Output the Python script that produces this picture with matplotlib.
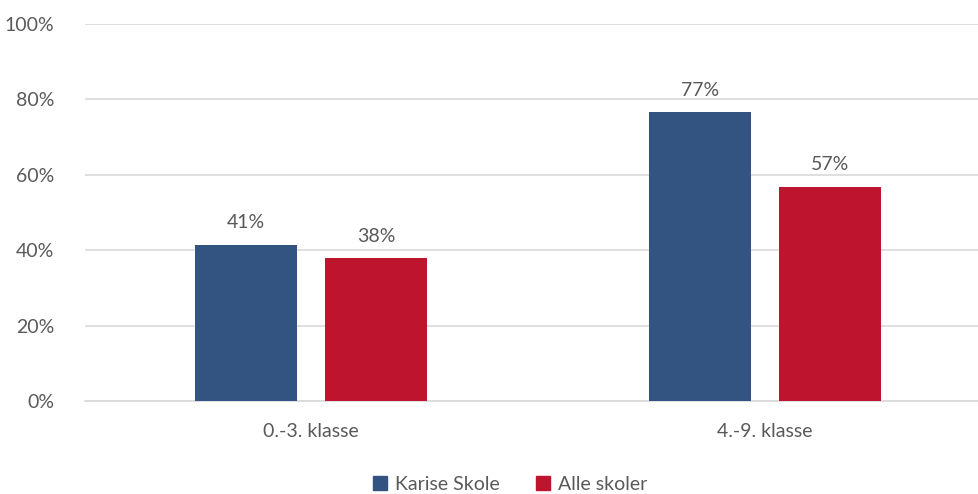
import numpy as np
import matplotlib.pyplot as plt
from matplotlib.patches import Patch

# ── Data ──────────────────────────────────────────────
categories = ["0.-3. klasse", "4.-9. klasse"]
series_names = ["Karise Skole", "Alle skoler"]
karise = [41.4, 76.6]
alle = [37.9, 56.8]
yticks = [0, 20, 40, 60, 80, 100]

colors = ["#335480", "#BE142D"]
text_col = "#595959"
grid_col = "#D9D9D9"
FS = 14

plt.rcParams['font.family'] = ['Lato', 'DejaVu Sans']

fig = plt.figure(figsize=(9.79, 4.94), dpi=100)
ax = fig.add_axes([85 / 979, 93 / 494, 894 / 979, 377 / 494])

x = np.arange(len(categories))
w = 0.225
off = 0.143
for vals, col, sign in [(karise, colors[0], -1), (alle, colors[1], 1)]:
    bars = ax.bar(x + sign * off, vals, width=w, color=col, zorder=3)
    for b, v in zip(bars, vals):
        ax.text(b.get_x() + b.get_width() / 2, v + 3.6, f"{v:.0f}%",
                ha='center', va='bottom', fontsize=FS, color=text_col)

ax.set_xlim(-0.498, 1.471)
ax.set_ylim(0, 100)
ax.set_yticks(yticks)
ax.set_yticklabels([f"{t}%" for t in yticks])
ax.set_xticks(x)
ax.set_xticklabels(categories)
ax.tick_params(axis='y', length=0, pad=22, labelsize=FS, labelcolor=text_col)
ax.tick_params(axis='x', length=0, pad=16, labelsize=FS, labelcolor=text_col)
ax.grid(axis='y', color=grid_col, linewidth=1.2, zorder=0)
ax.set_axisbelow(True)
for s in ['top', 'right', 'left']:
    ax.spines[s].set_visible(False)
ax.spines['bottom'].set_color(grid_col)
ax.spines['bottom'].set_linewidth(1.2)

handles = [Patch(color=c, label=n) for c, n in zip(colors, series_names)]
fig.legend(handles=handles, loc='center', bbox_to_anchor=(510 / 979, 1 - 484 / 494),
           ncol=2, frameon=False, fontsize=FS, labelcolor=text_col,
           handlelength=0.7, handleheight=0.7, handletextpad=0.4, columnspacing=1.9)

plt.savefig('out.png', dpi=100)
